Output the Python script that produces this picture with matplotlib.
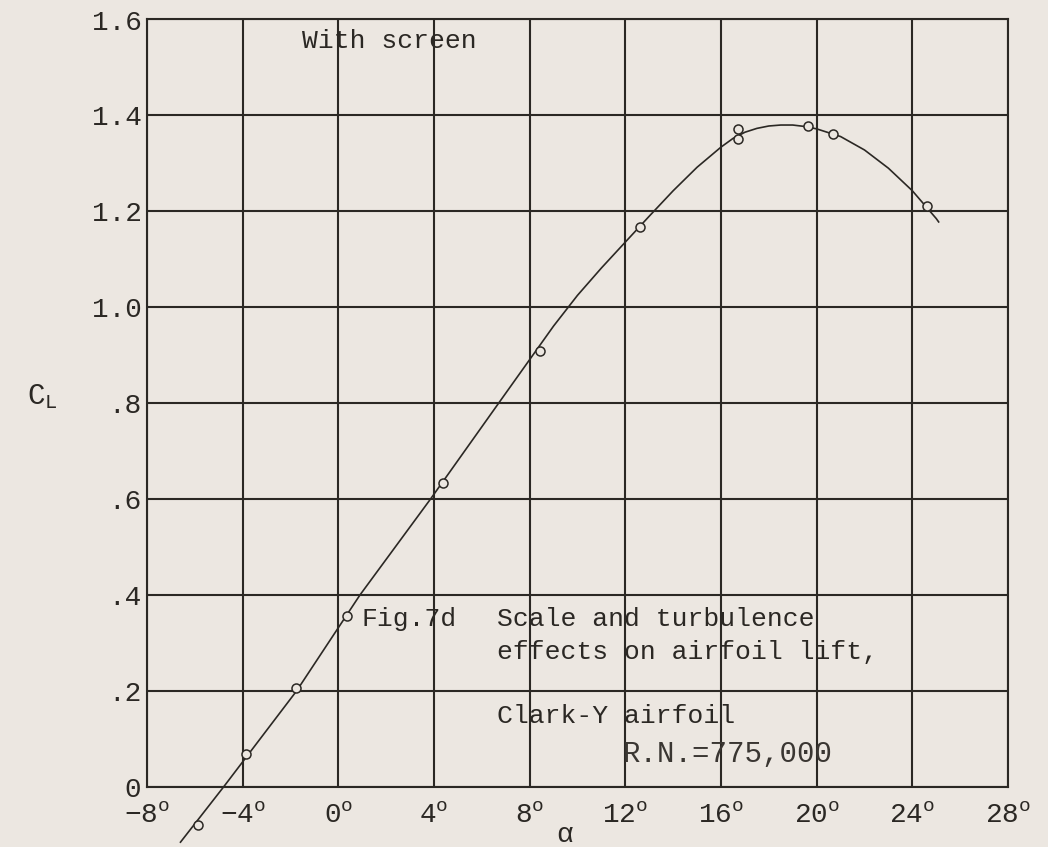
import numpy as np
import matplotlib
matplotlib.use('Agg')
import matplotlib.pyplot as plt

# ---------------------------------------------------------------------------
# Data (alpha in degrees, lift coefficient C_L)
# ---------------------------------------------------------------------------
alpha_pts = [-5.87, -3.87, -1.79, 0.36, 4.36, 8.44, 12.63, 16.69, 16.69, 19.62, 20.68, 24.61]
cl_pts = [-0.079, 0.069, 0.206, 0.356, 0.633, 0.908, 1.167, 1.372, 1.351, 1.379, 1.362, 1.212]

# faired curve drawn through the points
alpha_curve = [-6.6, -4.8, -1.75, 0.9, 3.85, 6.7, 9.0, 10.0, 11.0, 12.0, 13.0, 14.0,
               15.0, 16.0, 16.5, 17.0, 17.5, 18.0, 18.5, 19.0, 19.5, 20.0, 20.5,
               21.0, 22.0, 23.0, 24.0, 25.0, 25.1]
cl_curve = [-0.115, 0.0, 0.2, 0.4, 0.6, 0.8, 0.961, 1.025, 1.082, 1.136, 1.190, 1.243,
            1.292, 1.334, 1.352, 1.365, 1.373, 1.378, 1.380, 1.380, 1.377, 1.372, 1.364,
            1.356, 1.328, 1.290, 1.243, 1.185, 1.178]

x_ticks = [-8, -4, 0, 4, 8, 12, 16, 20, 24, 28]
y_ticks = [0, 0.2, 0.4, 0.6, 0.8, 1.0, 1.2, 1.4, 1.6]
y_ticklabels = ['0', '.2', '.4', '.6', '.8', '1.0', '1.2', '1.4', '1.6']

PAPER = '#ece7e1'
INK = '#2b2824'
FONT = 'Liberation Mono'

plt.rcParams['font.family'] = [FONT, 'DejaVu Sans']
plt.rcParams['mathtext.fontset'] = 'custom'
plt.rcParams['mathtext.rm'] = FONT
plt.rcParams['mathtext.it'] = FONT
plt.rcParams['mathtext.bf'] = FONT

fig = plt.figure(figsize=(10.48, 8.47), dpi=100, facecolor=PAPER)
ax = fig.add_axes([147 / 1048, 1 - 787 / 847, 861 / 1048, 767.5 / 847])
ax.set_facecolor(PAPER)

ax.set_xlim(-8, 28)
ax.set_ylim(0, 1.6)
ax.set_xticks(x_ticks)
ax.set_xticklabels([rf'${t}^{{\mathrm{{o}}}}$' for t in x_ticks])
ax.set_yticks(y_ticks)
ax.set_yticklabels(y_ticklabels)
ax.tick_params(length=0, labelsize=20, colors=INK, pad=4)
ax.tick_params(axis='x', pad=11)

ax.grid(True, color=INK, lw=1.5)
ax.set_axisbelow(True)
for sp in ax.spines.values():
    sp.set_color(INK)
    sp.set_linewidth(1.5)

# curve and test points (curve runs below the axis at low alpha)
ax.plot(alpha_curve, cl_curve, color=INK, lw=1.2, clip_on=False, zorder=3,
        solid_joinstyle='round')
ax.plot(alpha_pts, cl_pts, 'o', ms=6.5, mfc=PAPER, mec=INK, mew=1.1,
        clip_on=False, zorder=4)

ax.set_ylabel(r'$\mathrm{C}_{\mathrm{L}}$', rotation=0, fontsize=21, color=INK)
ax.yaxis.set_label_coords(-0.122, 0.49)
ax.set_xlabel('α', fontsize=20, color=INK)
ax.xaxis.label.set_va('center')
ax.xaxis.set_label_coords(0.485, -0.063)

txt = dict(fontsize=19, color=INK, ha='left', va='center')
ax.text(-1.52, 1.556, 'With screen', **txt)
ax.text(0.95, 0.35, 'Fig.7d', **txt)
ax.text(6.63, 0.35, 'Scale and turbulence', **txt)
ax.text(6.63, 0.281, 'effects on airfoil lift,', **txt)
ax.text(6.63, 0.148, 'Clark-Y airfoil', **txt)
ax.text(11.9, 0.069, 'R.N.=775,000', fontsize=21, color='#3a3632',
        ha='left', va='center')

fig.savefig('out.png', dpi=100, facecolor=PAPER)
